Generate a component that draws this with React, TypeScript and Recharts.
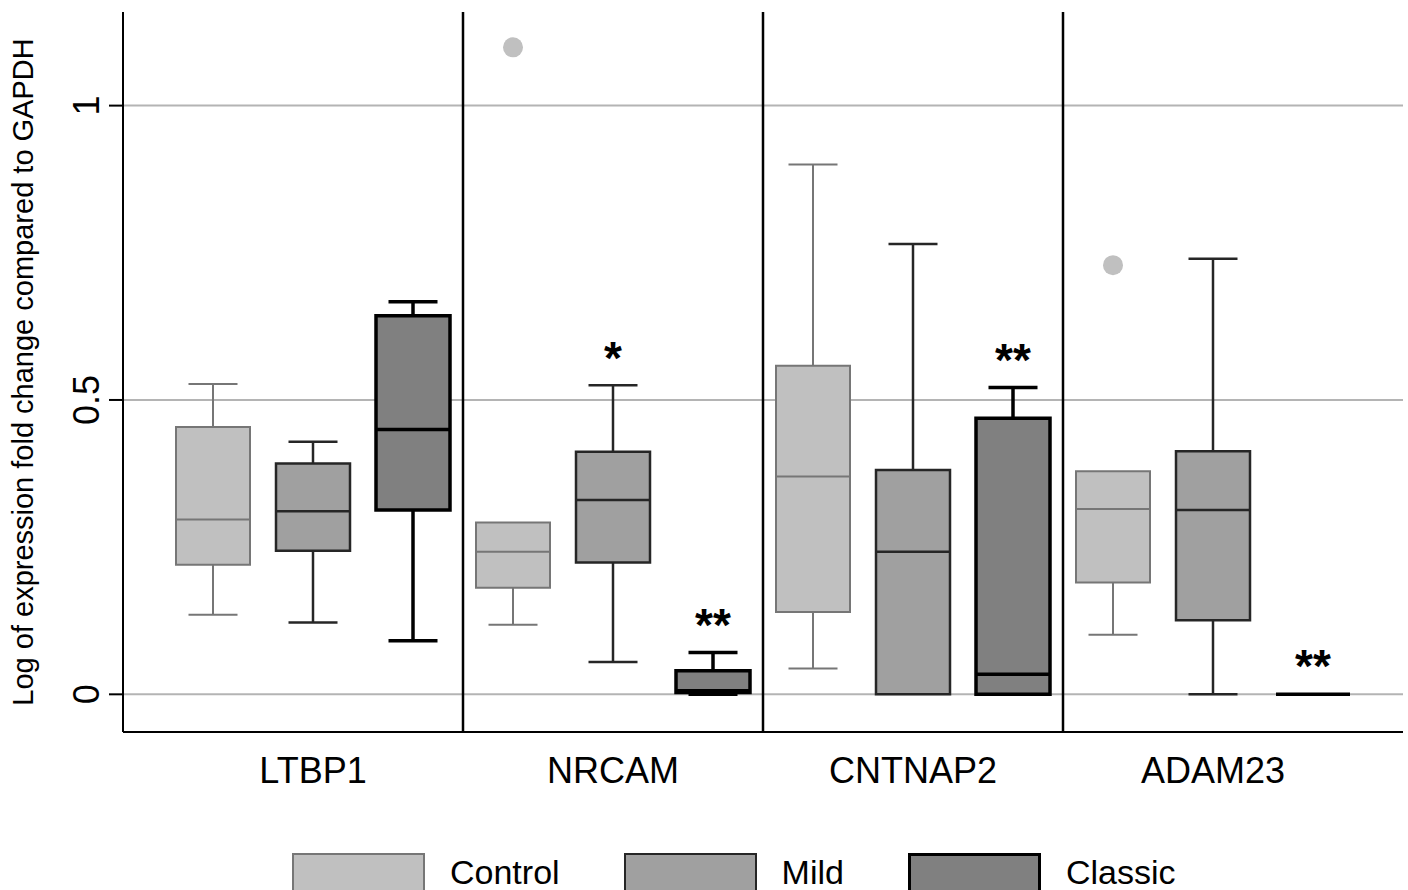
import {
  ComposedChart,
  XAxis,
  YAxis,
  CartesianGrid,
  ReferenceArea,
  ReferenceLine,
  Scatter,
  Label,
} from 'recharts'

const genes = ['LTBP1', 'NRCAM', 'CNTNAP2', 'ADAM23']
const groups = ['Control', 'Mild', 'Classic']

// [lower whisker, Q1, median, Q3, upper whisker], one row per gene
const controlBoxes = [
  [0.135, 0.22, 0.297, 0.454, 0.527],
  [0.118, 0.181, 0.242, 0.292, 0.292],
  [0.044, 0.14, 0.37, 0.558, 0.9],
  [0.101, 0.19, 0.315, 0.379, 0.379],
]
const mildBoxes = [
  [0.122, 0.244, 0.311, 0.392, 0.429],
  [0.055, 0.224, 0.33, 0.412, 0.525],
  [0, 0, 0.242, 0.381, 0.765],
  [0, 0.126, 0.313, 0.413, 0.74],
]
const classicBoxes = [
  [0.091, 0.313, 0.45, 0.643, 0.667],
  [0, 0.003, 0.006, 0.04, 0.071],
  [0, 0, 0.034, 0.469, 0.521],
  [0, 0, 0, 0, 0],
]

const controlOutliers = [
  { gene: 'NRCAM', value: 1.099 },
  { gene: 'ADAM23', value: 0.729 },
]

const significance = [
  { gene: 'NRCAM', group: 'Mild', mark: '*', y: 0.588 },
  { gene: 'NRCAM', group: 'Classic', mark: '**', y: 0.135 },
  { gene: 'CNTNAP2', group: 'Classic', mark: '**', y: 0.585 },
  { gene: 'ADAM23', group: 'Classic', mark: '**', y: 0.065 },
]

const yTicks = [0, 0.5, 1]

const groupStyle: Record<string, { fill: string; stroke: string; width: number }> = {
  Control: { fill: '#c0c0c0', stroke: '#767676', width: 2 },
  Mild: { fill: '#a0a0a0', stroke: '#262626', width: 2.5 },
  Classic: { fill: '#808080', stroke: '#000000', width: 3.5 },
}

const BOX_HALF = 0.37
const CAP_HALF = 0.245
const FONT = '"Liberation Sans", Arial, sans-serif'

const pos = (gene: string, group: string) => genes.indexOf(gene) * 3 + groups.indexOf(group)

const boxSets = [controlBoxes, mildBoxes, classicBoxes]

const boxAreas = boxSets.flatMap((set, g) =>
  set.flatMap(([, q1, , q3], k) => {
    const s = groupStyle[groups[g]]
    const x = k * 3 + g
    if (q3 <= q1) return []
    return [
      <ReferenceArea
        key={`box-${g}-${k}`}
        x1={x - BOX_HALF}
        x2={x + BOX_HALF}
        y1={q1}
        y2={q3}
        fill={s.fill}
        fillOpacity={1}
        stroke={s.stroke}
        strokeWidth={s.width}
        ifOverflow="visible"
      />,
    ]
  })
)

const boxLines = boxSets.flatMap((set, g) =>
  set.flatMap(([lo, q1, med, q3, hi], k) => {
    const s = groupStyle[groups[g]]
    const x = k * 3 + g
    const seg = (key: string, x1: number, y1: number, x2: number, y2: number) => (
      <ReferenceLine
        key={`${key}-${g}-${k}`}
        segment={[{ x: x1, y: y1 }, { x: x2, y: y2 }]}
        stroke={s.stroke}
        strokeWidth={s.width}
        ifOverflow="visible"
      />
    )
    const out = []
    if (hi > q3) {
      out.push(seg('hiw', x, q3, x, hi))
      out.push(seg('hic', x - CAP_HALF, hi, x + CAP_HALF, hi))
    }
    if (lo < q1) {
      out.push(seg('low', x, lo, x, q1))
      out.push(seg('loc', x - CAP_HALF, lo, x + CAP_HALF, lo))
    }
    out.push(seg('med', x - BOX_HALF, med, x + BOX_HALF, med))
    return out
  })
)

const separators = genes.slice(1).map((_, i) => (i + 1) * 3 - 0.5)

const outlierData = controlOutliers.map((o) => ({ x: pos(o.gene, 'Control'), y: o.value }))
const sigData = significance.map((s) => ({ x: pos(s.gene, s.group), y: s.y, mark: s.mark }))

const YTick = ({ x, y, payload }: any) => (
  <text
    transform={`translate(${x},${y}) rotate(-90)`}
    textAnchor="middle"
    fontSize={36}
    fontFamily={FONT}
    fill="#000"
  >
    {payload.value}
  </text>
)

const renderYLabel = ({ viewBox }: any) => (
  <text
    transform={`translate(${viewBox.x + 33},${viewBox.y + viewBox.height / 2}) rotate(-90)`}
    textAnchor="middle"
    fontSize={29}
    fontFamily={FONT}
    fill="#000"
  >
    Log of expression fold change compared to GAPDH
  </text>
)

function Legend() {
  return (
    <div
      style={{
        position: 'absolute',
        top: 853,
        left: 292,
        display: 'flex',
        gap: 64,
        fontFamily: FONT,
        fontSize: 34,
      }}
    >
      {groups.map((g) => (
        <div key={g} style={{ display: 'flex', alignItems: 'flex-start', gap: 25 }}>
          <div
            style={{
              width: 133,
              height: 40,
              boxSizing: 'border-box',
              background: groupStyle[g].fill,
              border: `${groupStyle[g].width}px solid ${groupStyle[g].stroke}`,
            }}
          />
          <span style={{ lineHeight: '34px', marginTop: 2, color: '#000' }}>{g}</span>
        </div>
      ))}
    </div>
  )
}

export default function App() {
  return (
    <div style={{ position: 'relative', width: 1408, height: 890, overflow: 'hidden', background: '#fff' }}>
      <style>{'body{margin:0}'}</style>
      <ComposedChart width={1408} height={890} margin={{ top: 12, right: 5, bottom: 98, left: 0 }}>
        <CartesianGrid vertical={false} horizontalValues={yTicks} stroke="#b4b4b4" strokeWidth={2} />
        <XAxis
          type="number"
          dataKey="x"
          domain={[-0.9, 11.9]}
          allowDataOverflow
          ticks={genes.map((_, i) => i * 3 + 1)}
          tickFormatter={(v: number) => genes[(v - 1) / 3]}
          tickLine={false}
          tickSize={0}
          tickMargin={25}
          height={60}
          axisLine={{ stroke: '#000', strokeWidth: 2 }}
          tick={{ fontSize: 36, fill: '#000', fontFamily: FONT }}
        />
        <YAxis
          type="number"
          domain={[-0.064, 1.159]}
          allowDataOverflow
          ticks={yTicks}
          width={123}
          tickSize={14}
          tickMargin={10}
          tick={<YTick />}
          tickLine={{ stroke: '#000', strokeWidth: 2 }}
          axisLine={{ stroke: '#000', strokeWidth: 2 }}
        >
          <Label content={renderYLabel} />
        </YAxis>
        {separators.map((x) => (
          <ReferenceLine key={`sep-${x}`} x={x} stroke="#000" strokeWidth={2.5} />
        ))}
        {boxAreas}
        {boxLines}
        <Scatter
          data={outlierData}
          dataKey="y"
          isAnimationActive={false}
          shape={(p: any) => <circle cx={p.cx} cy={p.cy} r={10} fill="#c0c0c0" />}
        />
        <Scatter
          data={sigData}
          dataKey="y"
          isAnimationActive={false}
          shape={(p: any) => (
            <text
              x={p.cx}
              y={p.cy}
              dy="0.57em"
              textAnchor="middle"
              fontSize={46}
              fontWeight="bold"
              fontFamily={FONT}
              fill="#000"
            >
              {p.payload.mark}
            </text>
          )}
        />
      </ComposedChart>
      <Legend />
    </div>
  )
}
